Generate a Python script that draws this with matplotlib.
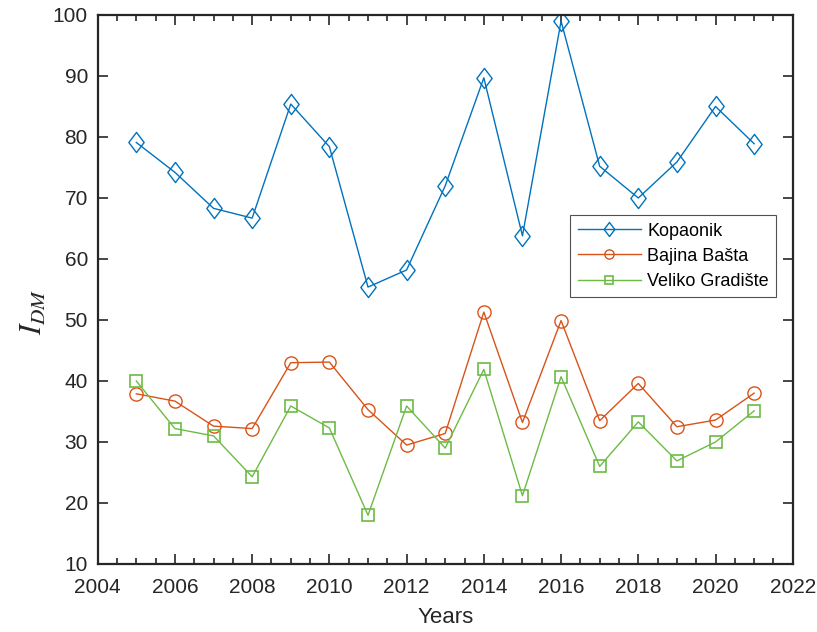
import matplotlib
matplotlib.use("Agg")
import matplotlib.pyplot as plt
from matplotlib.path import Path
from matplotlib.ticker import MultipleLocator

plt.rcParams["font.family"] = ["Liberation Sans", "DejaVu Sans"]
plt.rcParams["mathtext.fontset"] = "stix"

# Yearly I_DM index per station
years = list(range(2005, 2022))
kopaonik = [79.1, 74.2, 68.3, 66.7, 85.4, 78.4, 55.4, 58.2, 72.0, 89.7,
            63.8, 99.0, 75.2, 70.0, 75.9, 85.0, 78.9]
bajina_basta = [37.9, 36.7, 32.6, 32.2, 43.0, 43.1, 35.3, 29.5, 31.4, 51.3,
                33.2, 49.9, 33.5, 39.6, 32.5, 33.6, 38.0]
veliko_gradiste = [40.0, 32.2, 31.0, 24.3, 35.9, 32.3, 18.0, 35.9, 29.0, 41.9,
                   21.2, 40.7, 26.0, 33.3, 26.9, 30.0, 35.1]

# slightly narrow diamond, taller than wide
diamond = Path([(0, 1), (0.76, 0), (0, -1), (-0.76, 0), (0, 1)],
               [Path.MOVETO, Path.LINETO, Path.LINETO, Path.LINETO, Path.CLOSEPOLY])

fig = plt.figure(figsize=(8.17, 6.32), dpi=100)
ax = fig.add_axes([0.1196, 0.1076, 0.8507, 0.8687])

ax.plot(years, kopaonik, color="#0072BD", lw=1.0, marker=diamond, ms=14.5,
        mfc="none", mec="#0072BD", mew=1.0, label="Kopaonik")
ax.plot(years, bajina_basta, color="#D95319", lw=1.0, marker="o", ms=9.5,
        mfc="none", mec="#D95319", mew=1.0, label="Bajina Bašta")
ax.plot(years, veliko_gradiste, color="#6DBB45", lw=1.0, marker="s", ms=8,
        mfc="none", mec="#6DBB45", mew=1.2, label="Veliko Gradište")

ax.set_xlim(2004, 2022)
ax.set_ylim(10, 100)
ax.set_xticks(range(2004, 2023, 2))
ax.set_yticks(range(10, 101, 10))
ax.xaxis.set_minor_locator(MultipleLocator(0.5))

for side in ax.spines.values():
    side.set_linewidth(1.6)
    side.set_color("#262626")
ax.tick_params(which="both", direction="in", top=True, right=True,
               colors="#262626", labelsize=15, width=1.2)
ax.tick_params(which="major", length=7)
ax.tick_params(which="minor", length=4)
ax.tick_params(axis="x", which="major", pad=10)
ax.tick_params(axis="y", which="major", pad=7)

ax.set_xlabel("Years", fontsize=16, color="#262626", labelpad=7)
ax.set_ylabel(r"$I_{DM}$", fontsize=22, color="#262626")
ax.yaxis.set_label_coords(-0.07, 0.46)

leg = ax.legend(loc="upper left", bbox_to_anchor=(0.680, 0.635), fontsize=13,
                frameon=True, fancybox=False, handlelength=3.5,
                borderpad=0.4, labelspacing=0.45, handletextpad=0.35,
                borderaxespad=0, markerscale=0.7)
leg.get_frame().set_edgecolor("#262626")
leg.get_frame().set_linewidth(0.8)

fig.savefig("out.png", dpi=100)
